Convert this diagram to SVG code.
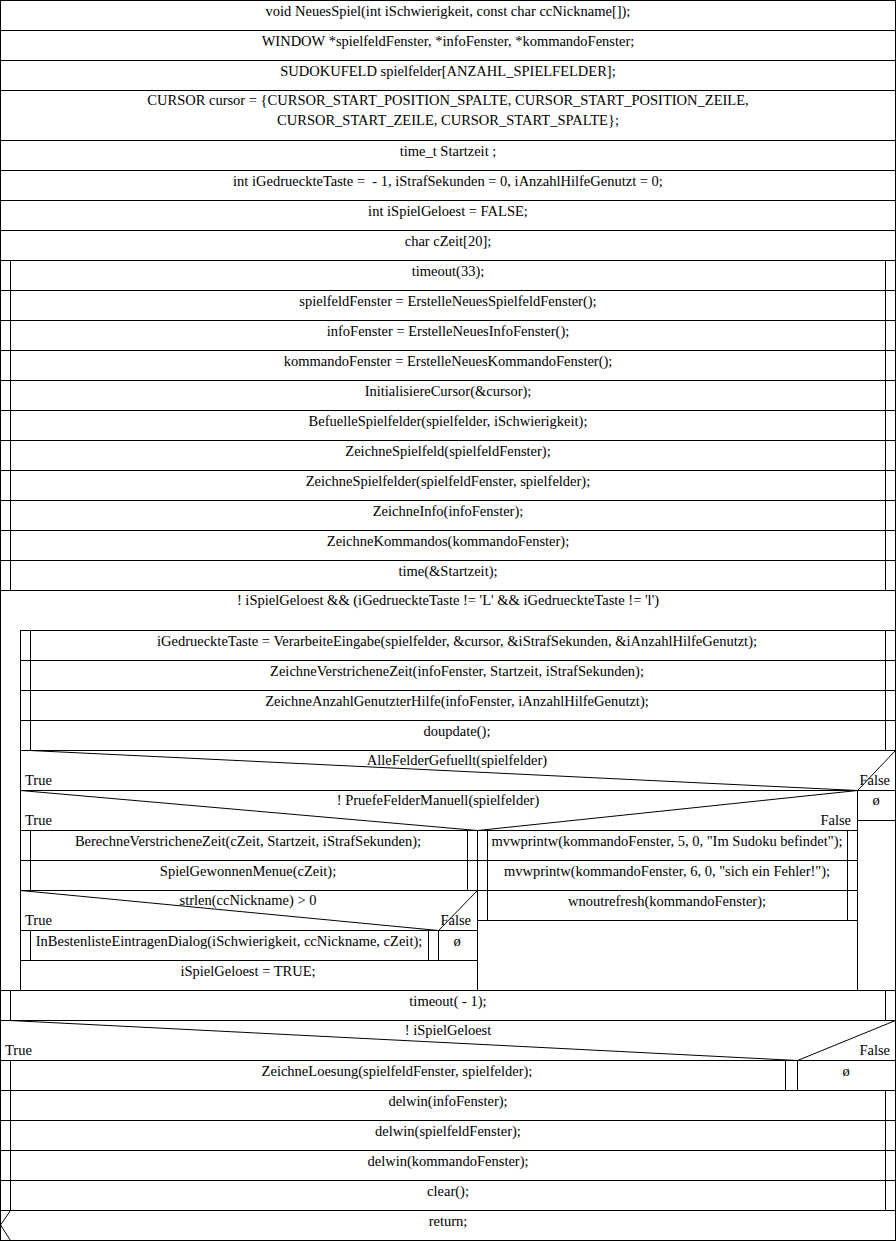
<svg xmlns="http://www.w3.org/2000/svg" width="896" height="1241" viewBox="0 0 896 1241">
<style>
.t{font-family:"Liberation Serif","Times New Roman",serif;font-size:14.5px;fill:#000;text-anchor:middle}
.l{text-anchor:start}
.r{text-anchor:end}
.s{fill:none;stroke:#000;stroke-width:1}
</style>
<rect width="896" height="1241" fill="#fff"/>
<rect class="s" x="0.5" y="0.5" width="895" height="1240"/>
<g id="decl">
<path class="s" d="M0 30.5H896M0 60.5H896M0 90.5H896M0 140.5H896M0 170.5H896M0 200.5H896M0 230.5H896M0 260.5H896"/>
<text class="t" x="448" y="16">void NeuesSpiel(int iSchwierigkeit, const char ccNickname[]);</text>
<text class="t" x="448" y="46">WINDOW *spielfeldFenster, *infoFenster, *kommandoFenster;</text>
<text class="t" x="448" y="76">SUDOKUFELD spielfelder[ANZAHL_SPIELFELDER];</text>
<text class="t" x="448" y="105">CURSOR cursor = {CURSOR_START_POSITION_SPALTE, CURSOR_START_POSITION_ZEILE,</text>
<text class="t" x="448" y="125">CURSOR_START_ZEILE, CURSOR_START_SPALTE};</text>
<text class="t" x="448" y="156">time_t Startzeit ;</text>
<text class="t" x="448" y="186" xml:space="preserve">int iGedrueckteTaste =  - 1, iStrafSekunden = 0, iAnzahlHilfeGenutzt = 0;</text>
<text class="t" x="448" y="216">int iSpielGeloest = FALSE;</text>
<text class="t" x="448" y="246">char cZeit[20];</text>
</g>
<g id="init">
<path class="s" d="M0 290.5H896M0 320.5H896M0 350.5H896M0 380.5H896M0 410.5H896M0 440.5H896M0 470.5H896M0 500.5H896M0 530.5H896M0 560.5H896M0 590.5H896M10.5 260V590M885.5 260V590"/>
<text class="t" x="448" y="276">timeout(33);</text>
<text class="t" x="448" y="306">spielfeldFenster = ErstelleNeuesSpielfeldFenster();</text>
<text class="t" x="448" y="336">infoFenster = ErstelleNeuesInfoFenster();</text>
<text class="t" x="448" y="366">kommandoFenster = ErstelleNeuesKommandoFenster();</text>
<text class="t" x="448" y="396">InitialisiereCursor(&amp;cursor);</text>
<text class="t" x="448" y="426">BefuelleSpielfelder(spielfelder, iSchwierigkeit);</text>
<text class="t" x="448" y="456">ZeichneSpielfeld(spielfeldFenster);</text>
<text class="t" x="448" y="486">ZeichneSpielfelder(spielfeldFenster, spielfelder);</text>
<text class="t" x="448" y="516">ZeichneInfo(infoFenster);</text>
<text class="t" x="448" y="546">ZeichneKommandos(kommandoFenster);</text>
<text class="t" x="448" y="576">time(&amp;Startzeit);</text>
</g>
<g id="loop">
<path class="s" d="M20.5 630V990M20 630.5H896M0 990.5H896"/>
<text class="t" x="448" y="605">! iSpielGeloest &amp;&amp; (iGedrueckteTaste != 'L' &amp;&amp; iGedrueckteTaste != 'l')</text>
</g>
<g id="loopbody">
<path class="s" d="M20 660.5H896M20 690.5H896M20 720.5H896M20 750.5H896M30.5 630V750M885.5 630V750"/>
<text class="t" x="457" y="646">iGedrueckteTaste = VerarbeiteEingabe(spielfelder, &amp;cursor, &amp;iStrafSekunden, &amp;iAnzahlHilfeGenutzt);</text>
<text class="t" x="457" y="676">ZeichneVerstricheneZeit(infoFenster, Startzeit, iStrafSekunden);</text>
<text class="t" x="457" y="706">ZeichneAnzahlGenutzterHilfe(infoFenster, iAnzahlHilfeGenutzt);</text>
<text class="t" x="457" y="736">doupdate();</text>
</g>
<g id="if-gefuellt">
<path class="s" d="M30 750.5L857.5 790.5L895.5 750.5M20 790.5H896M857.5 790V990M857 820.5H896"/>
<text class="t" x="457" y="765">AlleFelderGefuellt(spielfelder)</text>
<text class="t l" x="25" y="785">True</text>
<text class="t r" x="890" y="785">False</text>
<text class="t" x="876" y="805">ø</text>
</g>
<g id="if-pruefe">
<path class="s" d="M20.5 790.5L477.5 830.5L857.5 790.5M20 830.5H857M477.5 830V990"/>
<text class="t" x="438" y="805">! PruefeFelderManuell(spielfelder)</text>
<text class="t l" x="25" y="825">True</text>
<text class="t r" x="851" y="825">False</text>
</g>
<g id="true-branch">
<path class="s" d="M20 860.5H477M20 890.5H477M30.5 830V890M467.5 830V890"/>
<text class="t" x="248" y="846">BerechneVerstricheneZeit(cZeit, Startzeit, iStrafSekunden);</text>
<text class="t" x="248" y="876">SpielGewonnenMenue(cZeit);</text>
</g>
<g id="if-strlen">
<path class="s" d="M20.5 890.5L438.5 930.5L477.5 890.5M20 930.5H477M30.5 930V960M428.5 930V960M438.5 930V960M20 960.5H477"/>
<text class="t" x="248" y="905">strlen(ccNickname) &gt; 0</text>
<text class="t l" x="25" y="925">True</text>
<text class="t r" x="471" y="925">False</text>
<text class="t" x="229" y="946">InBestenlisteEintragenDialog(iSchwierigkeit, ccNickname, cZeit);</text>
<text class="t" x="457" y="946">ø</text>
<text class="t" x="248" y="976">iSpielGeloest = TRUE;</text>
</g>
<g id="false-branch">
<path class="s" d="M477 860.5H857M477 890.5H857M477 920.5H857M487.5 830V920M847.5 830V920"/>
<text class="t" x="667" y="846">mvwprintw(kommandoFenster, 5, 0, "Im Sudoku befindet");</text>
<text class="t" x="667" y="876">mvwprintw(kommandoFenster, 6, 0, "sich ein Fehler!");</text>
<text class="t" x="667" y="906">wnoutrefresh(kommandoFenster);</text>
</g>
<g id="after">
<path class="s" d="M10.5 990V1020M885.5 990V1020M0 1020.5H896"/>
<text class="t" x="448" y="1006" xml:space="preserve">timeout( - 1);</text>
</g>
<g id="if-geloest">
<path class="s" d="M10 1020.5L797.5 1060.5L895.5 1020.5M0 1060.5H896M10.5 1060V1090M785.5 1060V1090M797.5 1060V1090M0 1090.5H896"/>
<text class="t" x="448" y="1035">! iSpielGeloest</text>
<text class="t l" x="5" y="1055">True</text>
<text class="t r" x="890" y="1055">False</text>
<text class="t" x="397" y="1076">ZeichneLoesung(spielfeldFenster, spielfelder);</text>
<text class="t" x="846" y="1076">ø</text>
</g>
<g id="cleanup">
<path class="s" d="M0 1120.5H896M0 1150.5H896M0 1180.5H896M0 1210.5H896M10.5 1090V1210M885.5 1090V1210"/>
<text class="t" x="448" y="1106">delwin(infoFenster);</text>
<text class="t" x="448" y="1136">delwin(spielfeldFenster);</text>
<text class="t" x="448" y="1166">delwin(kommandoFenster);</text>
<text class="t" x="448" y="1196">clear();</text>
</g>
<g id="return">
<path class="s" d="M10.5 1210.5L0.5 1225L10.5 1240.5"/>
<text class="t" x="448" y="1226">return;</text>
</g>
</svg>
